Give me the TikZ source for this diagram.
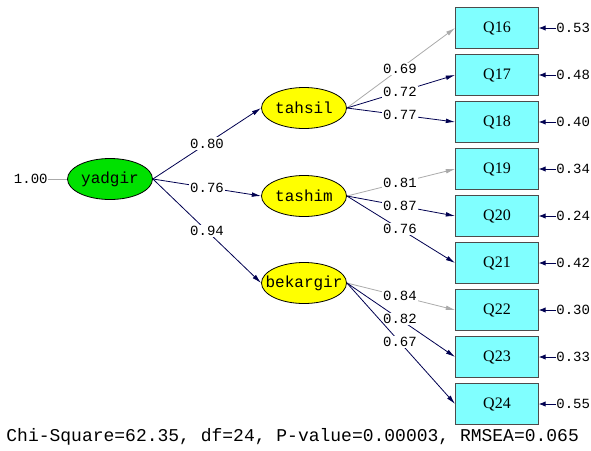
\documentclass[tikz,border=0pt]{standalone}
\usepackage{fontspec}
\setmainfont{Liberation Serif}
\setmonofont{Liberation Mono}
\usetikzlibrary{shapes.geometric,arrows.meta}
\definecolor{navy}{RGB}{0,0,80}
\definecolor{fixgray}{RGB}{170,170,170}
\definecolor{latgreen}{RGB}{0,225,0}
\definecolor{latyellow}{RGB}{255,255,0}
\definecolor{obscyan}{RGB}{128,255,255}
\newcommand{\lname}[1]{\makebox[0pt]{#1}}

\begin{document}
\begin{tikzpicture}[x=0.75pt, y=-0.75pt, line width=0.6pt,
    lat/.style={draw, ellipse, inner sep=0pt, minimum width=63.75pt, minimum height=30.75pt,
      font=\fontsize{12}{12}\ttfamily},
    obs/.style={draw=black!70, fill=obscyan, inner sep=0pt, minimum width=62.25pt,
      minimum height=30.75pt, font=\fontsize{12}{12}\selectfont\rmfamily},
    est/.style={fill=white, inner sep=1pt, font=\fontsize{10.5}{10.5}\ttfamily},
    lnk/.style={draw=navy, -{Latex[length=7pt,width=3.5pt]}},
    fixlnk/.style={draw=fixgray, -{Latex[length=7pt,width=3.5pt]}},
    errlnk/.style={draw=navy, -{Latex[length=5pt,width=4pt]}}]
    \useasboundingbox (0,0) rectangle (591,450);

    % latent variables
    \node[lat, fill=latgreen] (yadgir) at (110,179) {\lname{yadgir}};
    \node[lat, fill=latyellow] (tahsil) at (304,108) {\lname{tahsil}};
    \node[lat, fill=latyellow] (tashim) at (304,196) {\lname{tashim}};
    \node[lat, fill=latyellow] (bekargir) at (304,283) {\lname{bekargir}};
    \node[est, anchor=east, inner sep=0pt] (v0) at (48,179) {1.00};
    \draw[fixgray] (v0) -- (yadgir);

    % indicators
    \node[obs] (Q16) at (497,28) {Q16};
    \node[obs] (Q17) at (497,75) {Q17};
    \node[obs] (Q18) at (497,122) {Q18};
    \node[obs] (Q19) at (497,169) {Q19};
    \node[obs] (Q20) at (497,216) {Q20};
    \node[obs] (Q21) at (497,263) {Q21};
    \node[obs] (Q22) at (497,310) {Q22};
    \node[obs] (Q23) at (497,357) {Q23};
    \node[obs] (Q24) at (497,404) {Q24};

    % second order loadings
    \draw[lnk] (yadgir.east) -- node[est, pos=0.5] {0.80} (tahsil.west);
    \draw[lnk] (yadgir.east) -- node[est, pos=0.5] {0.76} (tashim.west);
    \draw[lnk] (yadgir.east) -- node[est, pos=0.5] {0.94} (bekargir.west);

    % first order loadings
    \draw[fixlnk] (tahsil.east) -- node[est, pos=0.49] {0.69} (Q16.west);
    \draw[lnk] (tahsil.east) -- node[est, pos=0.49] {0.72} (Q17.west);
    \draw[lnk] (tahsil.east) -- node[est, pos=0.49] {0.77} (Q18.west);
    \draw[fixlnk] (tashim.east) -- node[est, pos=0.49] {0.81} (Q19.west);
    \draw[lnk] (tashim.east) -- node[est, pos=0.49] {0.87} (Q20.west);
    \draw[lnk] (tashim.east) -- node[est, pos=0.49] {0.76} (Q21.west);
    \draw[fixlnk] (bekargir.east) -- node[est, pos=0.49] {0.84} (Q22.west);
    \draw[lnk] (bekargir.east) -- node[est, pos=0.49] {0.82} (Q23.west);
    \draw[lnk] (bekargir.east) -- node[est, pos=0.49] {0.67} (Q24.west);

    % error variances
    \node[est, anchor=west, inner sep=0pt] (e16) at (556,28) {0.53};
    \node[est, anchor=west, inner sep=0pt] (e17) at (556,75) {0.48};
    \node[est, anchor=west, inner sep=0pt] (e18) at (556,122) {0.40};
    \node[est, anchor=west, inner sep=0pt] (e19) at (556,169) {0.34};
    \node[est, anchor=west, inner sep=0pt] (e20) at (556,216) {0.24};
    \node[est, anchor=west, inner sep=0pt] (e21) at (556,263) {0.42};
    \node[est, anchor=west, inner sep=0pt] (e22) at (556,310) {0.30};
    \node[est, anchor=west, inner sep=0pt] (e23) at (556,357) {0.33};
    \node[est, anchor=west, inner sep=0pt] (e24) at (556,404) {0.55};
    \draw[errlnk] (e16.west) -- (Q16.east);
    \draw[errlnk] (e17.west) -- (Q17.east);
    \draw[errlnk] (e18.west) -- (Q18.east);
    \draw[errlnk] (e19.west) -- (Q19.east);
    \draw[errlnk] (e20.west) -- (Q20.east);
    \draw[errlnk] (e21.west) -- (Q21.east);
    \draw[errlnk] (e22.west) -- (Q22.east);
    \draw[errlnk] (e23.west) -- (Q23.east);
    \draw[errlnk] (e24.west) -- (Q24.east);

    % fit statistics
    \node[anchor=west, inner sep=0pt, font=\fontsize{13.5}{13.5}\ttfamily] (fit) at (6,437)
      {Chi-Square=62.35, df=24, P-value=0.00003, RMSEA=0.065};
\end{tikzpicture}
\end{document}
